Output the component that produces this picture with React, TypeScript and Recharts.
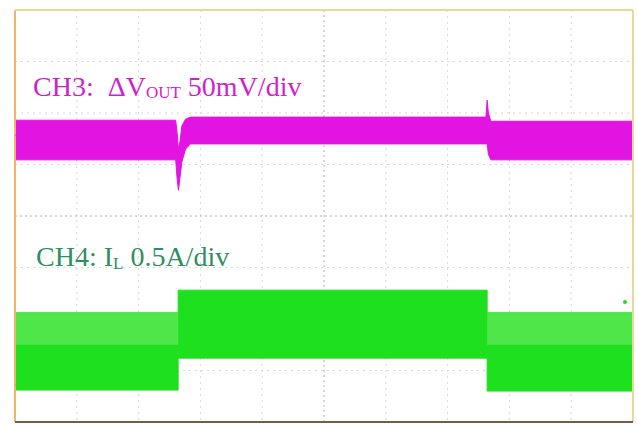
import React from 'react';
import {
  ComposedChart,
  Area,
  XAxis,
  YAxis,
  CartesianGrid,
  ReferenceLine,
  ReferenceDot,
} from 'recharts';

// time in divisions (0..10), level in divisions (0..8, bottom = 0)
const xTicks = [0, 1, 2, 3, 4, 5, 6, 7, 8, 9, 10];
const yTicks = [0, 1, 2, 3, 4, 5, 6, 7, 8];

// CH3: output voltage ripple envelope
const ch3Time = [0, 2.6, 2.625, 2.645, 2.67, 2.7, 2.76, 2.84, 7.62, 7.64, 7.66, 7.7, 10];
const ch3Low = [5.09, 5.09, 4.7, 4.5, 4.75, 5.05, 5.3, 5.4, 5.4, 5.4, 5.2, 5.09, 5.09];
const ch3High = [5.86, 5.86, 5.6, 5.3, 5.45, 5.75, 5.88, 5.92, 5.92, 6.25, 6.0, 5.84, 5.84];

// CH4: inductor current envelope (step load)
const ch4Time = [0, 2.64, 2.64, 7.64, 7.64, 10];
const ch4Low = [0.62, 0.62, 1.24, 1.24, 0.6, 0.6];
const ch4High = [2.12, 2.12, 2.56, 2.56, 2.12, 2.12];

// lighter ripple region on light load
const ch4RippleLeftTime = [0, 2.64];
const ch4RippleRightTime = [7.64, 10];
const ch4RippleLow = [1.5, 1.5];
const ch4RippleHigh = [2.12, 2.12];

const ch3Data = ch3Time.map((t, i) => ({ t, v: [ch3Low[i], ch3High[i]] }));
const ch4Data = ch4Time.map((t, i) => ({ t, v: [ch4Low[i], ch4High[i]] }));
const rippleLeft = ch4RippleLeftTime.map((t, i) => ({ t, v: [ch4RippleLow[i], ch4RippleHigh[i]] }));
const rippleRight = ch4RippleRightTime.map((t, i) => ({ t, v: [ch4RippleLow[i], ch4RippleHigh[i]] }));

const MAGENTA = '#e214e2';
const GREEN = '#1fe01f';
const GREEN_LIGHT = '#4fe64a';
const TEXT_GREEN = '#2f8f62';
const TEXT_MAGENTA = '#cf1fcf';

// grid positions from the plot offset (10 x 8 divisions)
const vGrid = (props: any) =>
  xTicks.slice(1, -1).filter((t) => t !== 5).map((t) => props.offset.left + (t / 10) * props.offset.width);
const hGrid = (props: any) =>
  yTicks.slice(1, -1).filter((t) => t !== 4).map((t) => props.offset.top + (1 - t / 8) * props.offset.height);
const vCenter = (props: any) => [props.offset.left + props.offset.width / 2];
const hCenter = (props: any) => [props.offset.top + props.offset.height / 2];

export default function App() {
  return (
    <div style={{ position: 'absolute', left: 0, top: 0, background: '#fff' }}>
      <ComposedChart
        width={637}
        height={426}
        margin={{ top: 10, left: 15, right: 4, bottom: 4 }}
        style={{ fontFamily: '"Liberation Serif", serif' }}
      >
        <XAxis
          type="number"
          dataKey="t"
          domain={[0, 10]}
          ticks={xTicks}
          height={0}
          tick={{ fill: 'none' }}
          tickLine={false}
          axisLine={false}
          allowDuplicatedCategory
        />
        <YAxis
          type="number"
          domain={[0, 8]}
          ticks={yTicks}
          width={0}
          tick={{ fill: 'none' }}
          tickLine={false}
          axisLine={false}
        />

        {/* graticule, behind the traces */}
        <CartesianGrid
          stroke="#d8d8d8"
          strokeDasharray="2 4"
          verticalCoordinatesGenerator={vGrid}
          horizontalCoordinatesGenerator={hGrid}
        />
        <CartesianGrid
          stroke="#b0b0b0"
          strokeDasharray="2 3"
          verticalCoordinatesGenerator={vCenter}
          horizontalCoordinatesGenerator={hCenter}
        />

        <Area
          data={ch3Data}
          dataKey="v"
          type="linear"
          fill={MAGENTA}
          fillOpacity={1}
          stroke={MAGENTA}
          strokeWidth={1}
          isAnimationActive={false}
        />
        <Area
          data={ch4Data}
          dataKey="v"
          type="linear"
          fill={GREEN}
          fillOpacity={1}
          stroke={GREEN}
          strokeWidth={1}
          isAnimationActive={false}
        />
        <Area
          data={rippleLeft}
          dataKey="v"
          type="linear"
          fill={GREEN_LIGHT}
          fillOpacity={1}
          stroke="none"
          isAnimationActive={false}
        />
        <Area
          data={rippleRight}
          dataKey="v"
          type="linear"
          fill={GREEN_LIGHT}
          fillOpacity={1}
          stroke="none"
          isAnimationActive={false}
        />

        {/* scope frame */}
        <ReferenceLine x={0} stroke="#f2b36c" strokeWidth={2} />
        <ReferenceLine x={10} stroke="#e9d89c" strokeWidth={2} />
        <ReferenceLine y={8} stroke="#ecd890" strokeWidth={2} />
        <ReferenceLine y={0} stroke="#7d5a48" strokeWidth={2} />

        {/* channel ground markers */}
        <ReferenceDot x={0.05} y={5.57} r={2.5} fill={MAGENTA} stroke="none" />
        <ReferenceDot x={0.05} y={0.72} r={2.5} fill={GREEN} stroke="none" />
        <ReferenceDot x={9.87} y={2.33} r={2} fill={GREEN} stroke="none" />

        <text x={33} y={96} fill={TEXT_MAGENTA} fontSize={28} fontFamily='"Liberation Serif", serif'>
          <tspan>{'CH3:\u00a0 ΔV'}</tspan>
          <tspan fontSize={17} dy={2}>OUT</tspan>
          <tspan dy={-2}> 50mV/div</tspan>
        </text>
        <text x={36} y={266} fill={TEXT_GREEN} fontSize={28} fontFamily='"Liberation Serif", serif'>
          <tspan>CH4: I</tspan>
          <tspan fontSize={17} dy={3}>L</tspan>
          <tspan dy={-3}> 0.5A/div</tspan>
        </text>
      </ComposedChart>
    </div>
  );
}
